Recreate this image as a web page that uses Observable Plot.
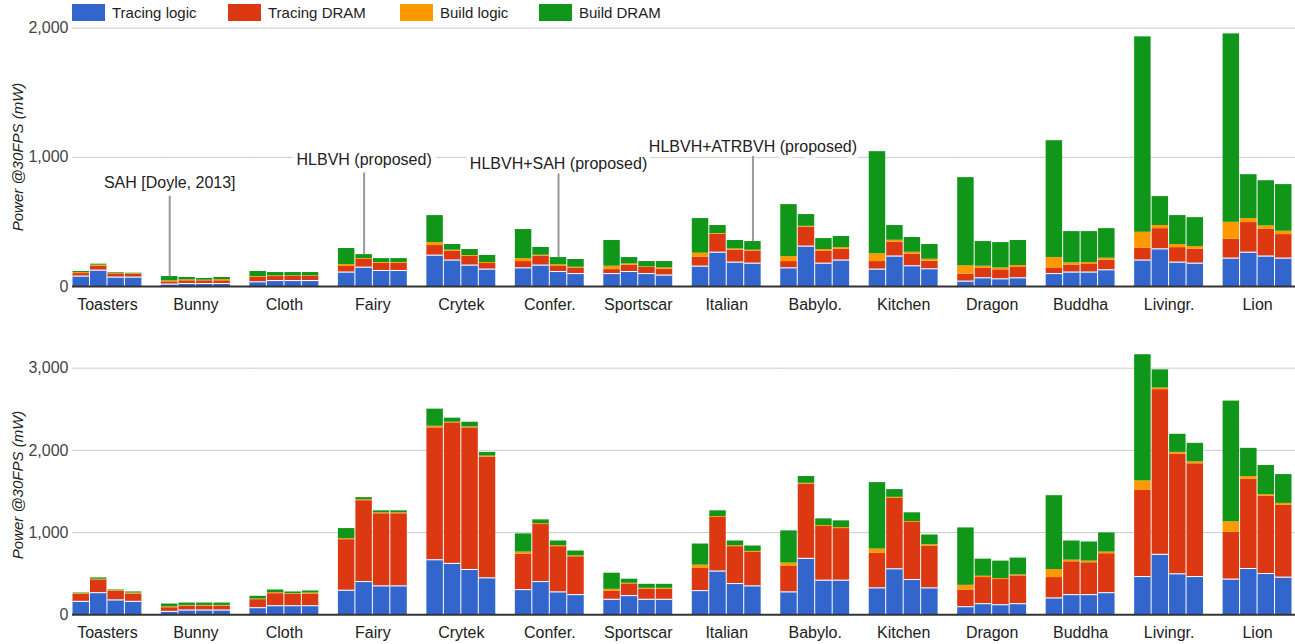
<!DOCTYPE html>
<html>
<head>
<meta charset="utf-8">
<script src="https://cdn.jsdelivr.net/npm/d3@7"></script>
<script src="https://cdn.jsdelivr.net/npm/@observablehq/plot@0.6"></script>
<style>
  html, body { margin: 0; padding: 0; background: #fff; }
  #root { position: relative; width: 1295px; height: 644px; overflow: hidden; font-family: Arial, "Liberation Sans", sans-serif; color: #222; }
  .chart { position: absolute; left: 0; }
  .legend-item { position: absolute; top: 4px; height: 17px; display: flex; align-items: center; font-size: 15px; color: #222; white-space: nowrap; z-index: 2; }
  .legend-item .sw { width: 33px; height: 17px; margin-right: 7px; }
  .ytitle { position: absolute; left: 17px; font-size: 15px; font-style: italic; color: #222; white-space: nowrap; transform: translate(-50%, -50%) rotate(-90deg); z-index: 2; }
  svg [aria-label="y-axis tick label"] { fill: #444; }
</style>
</head>
<body>
<div id="root"></div>
<script>
// ---- categories ----
const scenes = ["Toasters","Bunny","Cloth","Fairy","Crytek","Confer.","Sportscar","Italian","Babylo.","Kitchen","Dragon","Buddha","Livingr.","Lion"];
const methods = ["SAH","HLBVH","HLBVH+SAH","HLBVH+ATRBVH"];
const components = ["Tracing logic","Tracing DRAM","Build logic","Build DRAM"];
const colors = ["#3366cc","#dc3912","#ff9900","#109618"];

// ---- top chart values (mW), [scene][method] ----
const topTracingLogic = [[80,126,72,72],[18,23,23,23],[36,46,46,46],[111,149,124,124],[242,204,165,134],[144,165,116,100],[100,116,100,88],[157,265,188,180],[144,312,180,204],[134,235,160,137],[41,67,59,67],[100,111,111,129],[204,291,188,180],[219,265,235,219]];
const topTracingDRAM = [[20,31,26,21],[18,21,21,21],[34,31,34,34],[44,60,56,56],[75,69,70,44],[49,70,39,42],[31,49,47,46],[70,140,93,93],[49,147,93,85],[59,108,90,59],[54,75,70,80],[44,54,64,75],[92,157,113,109],[147,230,208,183]];
const topBuildLogic = [[8,8,5,5],[8,8,5,10],[7,5,3,3],[15,7,6,6],[23,8,5,8],[23,7,13,7],[26,10,5,10],[31,5,10,8],[39,7,13,12],[60,15,15,15],[65,15,15,15],[80,18,11,15],[124,24,24,20],[131,31,26,26]];
const topBuildDRAM = [[8,8,5,5],[33,18,13,16],[39,26,25,25],[124,31,30,30],[209,44,46,54],[225,60,56,60],[199,49,41,49],[268,62,65,67],[402,91,85,86],[791,114,114,114],[683,191,196,194],[905,242,239,229],[1513,224,224,224],[1459,340,350,361]];

// ---- bottom chart values (mW), [scene][method] ----
const botTracingLogic = [[163,269,180,163],[41,57,57,57],[86,110,110,110],[298,404,351,351],[669,625,551,449],[306,404,278,245],[188,233,188,188],[294,531,380,351],[278,686,420,420],[327,559,429,327],[98,135,122,135],[204,245,245,269],[465,735,498,465],[433,563,502,457]];
const botTracingDRAM = [[86,156,106,90],[45,49,49,49],[98,147,139,139],[616,984,878,878],[1605,1710,1723,1470],[433,694,551,461],[98,143,122,122],[269,653,449,408],[310,902,654,629],[420,857,694,510],[204,318,307,338],[249,400,388,474],[1054,2004,1457,1372],[571,1086,939,874]];
const botBuildLogic = [[8,8,8,12],[12,8,8,8],[8,12,8,16],[13,12,12,12],[20,8,12,12],[24,12,12,12],[24,8,12,12],[41,12,12,12],[41,12,12,12],[53,13,12,16],[57,16,12,13],[98,20,20,20],[110,20,21,24],[127,33,20,24]];
const botBuildDRAM = [[8,16,8,13],[33,29,29,29],[33,33,21,25],[122,25,24,24],[208,49,57,45],[221,45,57,58],[196,49,49,49],[257,69,57,66],[392,82,81,82],[808,94,106,118],[698,208,212,204],[898,233,233,233],[1535,221,220,225],[1469,343,355,351]];

// ---- axis ticks ----
const topTicks = [0, 1000, 2000];
const botTicks = [0, 1000, 2000, 3000];

// ---- annotations (top chart) ----
const annotScenes = ["Bunny","Fairy","Confer.","Italian"];
const annotMethods = ["SAH","HLBVH","HLBVH+SAH","HLBVH+ATRBVH"];
const annotLabels = ["SAH [Doyle, 2013]","HLBVH (proposed)","HLBVH+SAH (proposed)","HLBVH+ATRBVH (proposed)"];
const annotTextLevel = [804, 982, 951, 1082];
const annotStemTop = [742, 918, 889, 1022];

function buildRows(series) {
  const out = [];
  scenes.forEach((scene, s) => methods.forEach((method, m) => components.forEach((component, c) => {
    out.push({scene, method, component, value: series[c][s][m]});
  })));
  return out;
}
const topRows = buildRows([topTracingLogic, topTracingDRAM, topBuildLogic, topBuildDRAM]);
const botRows = buildRows([botTracingLogic, botTracingDRAM, botBuildLogic, botBuildDRAM]);

function totalOf(rows, scene, method) {
  return d3.sum(rows.filter(r => r.scene === scene && r.method === method), r => r.value);
}
const annots = annotLabels.map((label, i) => ({
  scene: annotScenes[i], method: annotMethods[i], label,
  level: annotTextLevel[i], stemTop: annotStemTop[i],
  base: totalOf(topRows, annotScenes[i], annotMethods[i])
}));

const fmt = d3.format(",");

function makeChart(rows, yMax, ticks, height, marginTop, marginBottom, extra) {
  const grid = ticks.filter(t => t > 0);
  return Plot.plot({
    width: 1295, height, marginTop, marginBottom, marginLeft: 72, marginRight: 3,
    style: {fontFamily: "Arial, 'Liberation Sans', sans-serif", fontSize: "16px", color: "#222", background: "transparent", overflow: "visible"},
    fx: {domain: scenes, paddingInner: 0.21, paddingOuter: 0, round: false, label: null, axis: "bottom", tickSize: 0, tickPadding: 12},
    x: {domain: methods, padding: 0, round: false, axis: null},
    y: {domain: [0, yMax], ticks, tickFormat: fmt, tickSize: 0, tickPadding: 4, label: null},
    color: {domain: components, range: colors},
    marks: [
      Plot.ruleY(grid, {stroke: "#cccccc", strokeWidth: 1, insetRight: -19}),
      Plot.barY(rows, {fx: "scene", x: "method", y: "value", fill: "component", insetLeft: 0.5, insetRight: 0.5}),
      Plot.tickY(rows.filter(r => r.component === components[0]), {fx: "scene", x: "method", y: "value", stroke: "white", strokeWidth: 1, insetLeft: 0.5, insetRight: 0.5}),
      Plot.ruleY([0], {stroke: "#333333", strokeWidth: 2, insetRight: -19}),
      ...extra
    ]
  });
}

const topExtra = [
  Plot.ruleX(annots, {fx: "scene", x: "method", y1: "base", y2: "stemTop", stroke: "#999999", strokeWidth: 2}),
  Plot.text(annots, {fx: "scene", x: "method", y: "level", text: "label", fill: "#222", stroke: "white", strokeWidth: 10, fontSize: 16})
];

const root = document.getElementById("root");

const c1 = makeChart(topRows, 2000, topTicks, 322, 27.7, 36, topExtra);
c1.classList.add("chart"); c1.style.top = "0px"; c1.style.position = "absolute";
root.appendChild(c1);

const c2 = makeChart(botRows, 3000, botTicks, 322, 45.7, 29.7, []);
c2.classList.add("chart"); c2.style.top = "322px"; c2.style.position = "absolute";
root.appendChild(c2);

// legend
const legendLefts = [72, 228, 400, 539];
components.forEach((name, i) => {
  const item = document.createElement("div");
  item.className = "legend-item";
  item.style.left = legendLefts[i] + "px";
  const sw = document.createElement("div");
  sw.className = "sw"; sw.style.background = colors[i];
  const tx = document.createElement("span");
  tx.textContent = name;
  item.appendChild(sw); item.appendChild(tx);
  root.appendChild(item);
});

// y-axis titles
[[157, "Power @30FPS (mW)"], [485, "Power @30FPS (mW)"]].forEach(([cy, t]) => {
  const el = document.createElement("div");
  el.className = "ytitle";
  el.style.top = cy + "px";
  el.textContent = t;
  root.appendChild(el);
});
</script>
</body>
</html>
